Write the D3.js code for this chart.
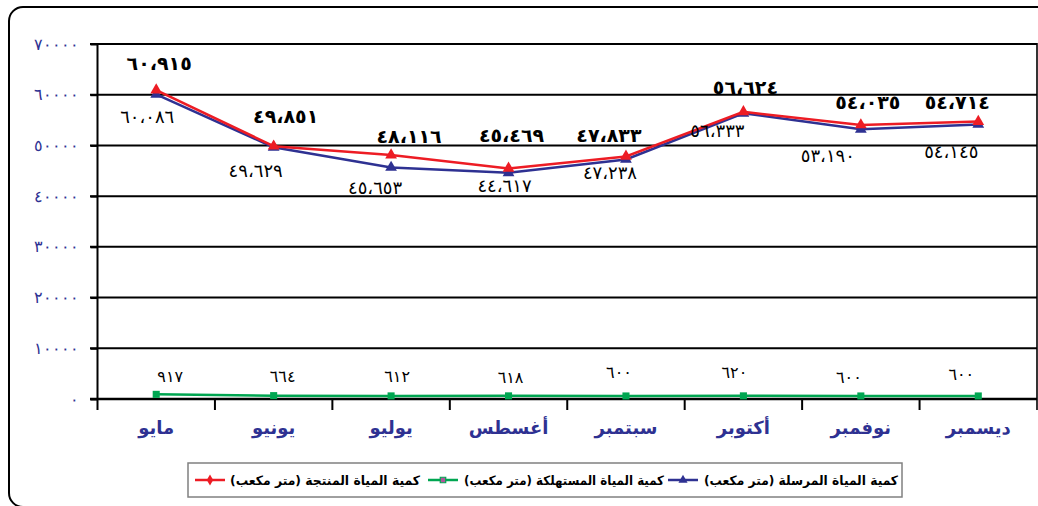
<!DOCTYPE html>
<html>
<head>
<meta charset="utf-8">
<script src="https://cdn.jsdelivr.net/npm/d3@7"></script>
<style>
  html, body { margin: 0; padding: 0; background: #fff; }
  svg { display: block; font-family: 'DejaVu Sans', sans-serif; }
</style>
</head>
<body>
<div id="chart"></div>
<script>
// months (x categories)
const months = ['مايو', 'يونيو', 'يوليو', 'أغسطس', 'سبتمبر', 'أكتوبر', 'نوفمبر', 'ديسمبر']
// produced water (m3) - red
const produced = [60915, 49851, 48116, 45469, 47833, 56624, 54035, 54714]
// sent water (m3) - blue
const sent = [60086, 49629, 45653, 44617, 47238, 56333, 53190, 54145]
// consumed water (m3) - green
const consumed = [917, 664, 612, 618, 600, 620, 600, 600]
// y ticks
const yTicks = [0, 10000, 20000, 30000, 40000, 50000, 60000, 70000]

const legendNames = {
  produced: 'كمية المياة المنتجة (متر مكعب)',
  consumed: 'كمية المياة المستهلكة (متر مكعب)',
  sent: 'كمية المياة المرسلة (متر مكعب)'
}

;(function drawChart() {
  const W = 1038, H = 506
  const RED = '#ed1c24', BLUE = '#2e3192', GREEN = '#00a651', NAVY = '#2e3192'

  // hand-placed label nudges (dx, dy from each point), like the dragged labels in the original
  const nudgeRed = [[3, -27], [12, -30], [18, -19], [3, -33], [-17, -21], [2, -25], [7, -23], [-21, -20]]
  const nudgeBlue = [[-9, 22], [-18, 23], [-16, 20], [-4, 13], [-16, 13], [-26, 17], [-33, 26], [-27, 27]]
  const nudgeGreen = [[14, -18], [9, -19], [6, -19], [2, -18], [-7, -23], [-9, -23], [-12, -18], [-17, -21]]

  const toArabic = (n, sep) => {
    const s = sep ? d3.format(',')(n) : String(n)
    return s.replace(/\d/g, (d) => '٠١٢٣٤٥٦٧٨٩'[+d]).replace(/,/g, '،')
  }

  const svg = d3.select('#chart').append('svg')
    .attr('width', W).attr('height', H)

  // outer rounded frame
  svg.append('rect')
    .attr('x', 9).attr('y', 7).attr('width', 1045).attr('height', 500)
    .attr('rx', 14).attr('fill', 'none').attr('stroke', '#000').attr('stroke-width', 2)

  const x = d3.scaleBand().domain(months).range([97.5, 1037]).padding(0)
  const y = d3.scaleLinear().domain([0, 70000]).range([399, 44])
  const cx = (i) => x(months[i]) + x.bandwidth() / 2

  // gridlines
  svg.append('g').selectAll('line')
    .data(yTicks.filter((t) => t > 0))
    .enter().append('line')
    .attr('x1', 90).attr('x2', 1037)
    .attr('y1', (d) => y(d)).attr('y2', (d) => y(d))
    .attr('stroke', '#000').attr('stroke-width', 2)

  // y axis
  const yAxis = svg.append('g')
    .attr('transform', 'translate(97.5,0)')
    .call(d3.axisLeft(y).tickValues(yTicks).tickSize(7).tickFormat((d) => toArabic(d)))
  yAxis.select('.domain').attr('stroke-width', 2).attr('d', 'M-7,44H0V410')
  yAxis.selectAll('.tick line').attr('stroke-width', 2)
  yAxis.selectAll('.tick text')
    .attr('x', -19)
    .attr('fill', NAVY)
    .attr('font-size', 16)
    .attr('letter-spacing', 3)

  // x axis
  const xAxis = svg.append('g')
    .attr('transform', 'translate(0,399)')
    .call(d3.axisBottom(x).tickSize(0).tickFormat(''))
  xAxis.select('.domain').attr('stroke-width', 2.5).attr('d', 'M90,0H1037')
  xAxis.selectAll('.tick').remove()
  svg.append('g').selectAll('line')
    .data(months.slice(1))
    .enter().append('line')
    .attr('x1', (d) => x(d)).attr('x2', (d) => x(d))
    .attr('y1', 399).attr('y2', 410)
    .attr('stroke', '#000').attr('stroke-width', 2)
  // right frame of plot
  svg.append('line')
    .attr('x1', 1037).attr('x2', 1037).attr('y1', 43).attr('y2', 410)
    .attr('stroke', '#000').attr('stroke-width', 1.6)

  svg.append('g').selectAll('text')
    .data(months)
    .enter().append('text')
    .attr('x', (d) => x(d) + x.bandwidth() / 2)
    .attr('y', 434)
    .attr('text-anchor', 'middle')
    .attr('fill', NAVY)
    .attr('font-weight', 'bold')
    .attr('font-size', 18)
    .text((d) => d)

  const line = d3.line().x((d, i) => cx(i)).y((d) => y(d))
  const tri = d3.symbol().type(d3.symbolTriangle).size(60)
  const sq = d3.symbol().type(d3.symbolSquare).size(50)

  const drawSeries = (values, color, symbol) => {
    const g = svg.append('g')
    g.append('path').datum(values)
      .attr('d', line).attr('fill', 'none')
      .attr('stroke', color).attr('stroke-width', 2.5)
    g.selectAll('path.pt')
      .data(values)
      .enter().append('path').attr('class', 'pt')
      .attr('d', symbol)
      .attr('transform', (d, i) => 'translate(' + cx(i) + ',' + y(d) + ')')
      .attr('fill', color)
  }

  drawSeries(consumed, GREEN, sq)
  drawSeries(sent, BLUE, tri)
  drawSeries(produced, RED, tri)

  const drawLabels = (values, nudge, weight, size, spacing) => {
    svg.append('g').selectAll('text')
      .data(values)
      .enter().append('text')
      .attr('x', (d, i) => cx(i) + nudge[i][0])
      .attr('y', (d, i) => y(d) + nudge[i][1])
      .attr('text-anchor', 'middle')
      .attr('dominant-baseline', 'central')
      .attr('font-size', size)
      .attr('font-weight', weight)
      .attr('letter-spacing', spacing)
      .attr('fill', '#000')
      .text((d) => toArabic(d, true))
  }

  drawLabels(produced, nudgeRed, 'bold', 19, 3)
  drawLabels(sent, nudgeBlue, 'normal', 18, 2.8)
  drawLabels(consumed, nudgeGreen, 'normal', 16, 3)

  // legend
  const legend = svg.append('g')
  legend.append('rect')
    .attr('x', 188).attr('y', 463).attr('width', 714).attr('height', 34)
    .attr('fill', '#fff').attr('stroke', '#808080').attr('stroke-width', 1.5)

  const legendItems = [
    {key: 'produced', color: RED, marker: 'diamond', mx: 195, tx: 420, tw: 190},
    {key: 'consumed', color: GREEN, marker: 'square', mx: 428, tx: 664, tw: 200},
    {key: 'sent', color: BLUE, marker: 'triangle', mx: 668, tx: 898, tw: 194}
  ]
  const ly = 480
  legendItems.forEach((it) => {
    legend.append('line')
      .attr('x1', it.mx).attr('x2', it.mx + 30).attr('y1', ly).attr('y2', ly)
      .attr('stroke', it.color).attr('stroke-width', 2.5)
    let sym
    if (it.marker === 'diamond') {
      sym = d3.symbol().type(d3.symbolDiamond).size(36)
    } else if (it.marker === 'square') {
      sym = d3.symbol().type(d3.symbolSquare).size(30)
    } else {
      sym = d3.symbol().type(d3.symbolTriangle).size(36)
    }
    legend.append('path')
      .attr('d', sym)
      .attr('transform', 'translate(' + (it.mx + 15) + ',' + ly + ')')
      .attr('fill', it.marker === 'square' ? '#b0559a' : it.color)
      .attr('stroke', it.marker === 'square' ? GREEN : 'none')
      .attr('stroke-width', 1.2)
    legend.append('text')
      .attr('x', it.tx)
      .attr('y', ly)
      .attr('direction', 'rtl')
      .attr('text-anchor', 'start')
      .attr('dominant-baseline', 'central')
      .attr('font-size', 13)
      .attr('font-weight', 'bold')
      .attr('textLength', it.tw)
      .attr('lengthAdjust', 'spacingAndGlyphs')
      .attr('fill', '#000')
      .text(legendNames[it.key])
  })
})()
</script>
</body>
</html>
